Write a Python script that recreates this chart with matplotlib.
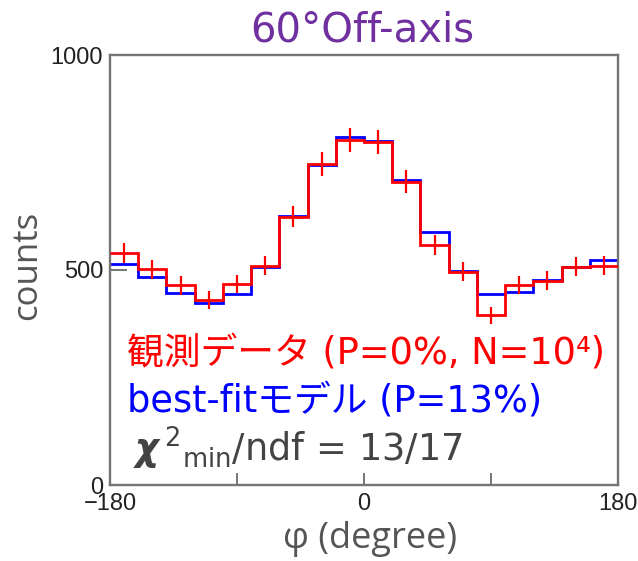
import numpy as np
import matplotlib
matplotlib.use("Agg")
import matplotlib.pyplot as plt

# ---- data ----
phi_edges = [-180, -160, -140, -120, -100, -80, -60, -40, -20, 0,
             20, 40, 60, 80, 100, 120, 140, 160, 180]
observed = [539, 502, 464, 430, 467, 510, 624, 746, 802, 797,
            705, 558, 496, 395, 465, 475, 508, 510]
model = [514, 483, 446, 424, 444, 508, 626, 744, 809, 801,
         709, 589, 498, 444, 450, 477, 508, 523]
x_tick_pos = [-180, -90, 0, 90, 180]
x_tick_lab = ['\u2212180', '', '0', '', '180']
y_tick_pos = [0, 500, 1000]
y_tick_lab = ['0', '500', '1000']

title = '60\u00b0Off-axis'
label_obs = '観測データ (P=0%, N=10\u2074)'
label_fit = 'best-fitモデル (P=13%)'
label_chi = r'$\chi^{\,2}{}_{\mathrm{min}}$/ndf = 13/17'
xlabel = '\u03c6 (degree)'
ylabel = 'counts'

plt.rcParams['mathtext.fontset'] = 'custom'
plt.rcParams['mathtext.rm'] = 'DejaVu Sans'
plt.rcParams['mathtext.it'] = 'DejaVu Sans:italic:bold'
plt.rcParams['mathtext.bf'] = 'DejaVu Sans:bold'

W, H = 638, 561
fig = plt.figure(figsize=(W / 100, H / 100), dpi=100)
L, R, T, B = 110, 618, 55, 485
ax = fig.add_axes([L / W, 1 - B / H, (R - L) / W, (B - T) / H])

edges = np.array(phi_edges, dtype=float)
obs = np.array(observed, dtype=float)
mod = np.array(model, dtype=float)
centers = 0.5 * (edges[:-1] + edges[1:])

ax.stairs(mod, edges, color='#0000ff', lw=2.0, baseline=None, zorder=2)
ax.stairs(obs, edges, color='#ff0000', lw=2.0, baseline=None, zorder=3)
ax.errorbar(centers, obs, yerr=np.sqrt(obs), fmt='none', ecolor='#ff0000',
            elinewidth=1.6, capsize=0, zorder=4)

ax.set_xlim(-180, 180)
ax.set_ylim(0, 1000)

frame_col = '#747474'
for s in ax.spines.values():
    s.set_color(frame_col)
    s.set_linewidth(1.7)

ax.set_xticks(x_tick_pos)
ax.set_xticklabels(x_tick_lab, fontfamily='Liberation Sans', fontsize=17, color='#222222')
ax.set_yticks(y_tick_pos)
ax.set_yticklabels(y_tick_lab, fontfamily='Liberation Sans', fontsize=17, color='#222222')
ax.tick_params(axis='x', direction='in', length=9, width=1.4, color=frame_col, pad=6)
ax.tick_params(axis='y', direction='in', length=12, width=1.4, color=frame_col, pad=5)

# texts
fam_jp = ['DejaVu Sans', 'Noto Sans CJK JP']
fig.text(362 / W, 1 - 42 / H, title, ha='center', va='baseline',
         fontsize=29, color='#7030a0', family=fam_jp)
fig.text(127 / W, 1 - 363 / H, label_obs, ha='left', va='baseline',
         fontsize=26.5, color='#ff0000', family=fam_jp)
fig.text(127 / W, 1 - 412 / H, label_fit, ha='left', va='baseline',
         fontsize=26.5, color='#0000ff', family=fam_jp)
fig.text(133 / W, 1 - 462 / H, label_chi, ha='left', va='baseline',
         fontsize=26.5, color='#444444', family='DejaVu Sans')

fig.text(370 / W, 1 - 548 / H, xlabel, ha='center', va='baseline',
         fontsize=26, color='#555555', family=['Open Sans', 'DejaVu Sans'])
fig.text(27 / W, 1 - 265 / H, ylabel, ha='center', va='center', rotation=90,
         fontsize=25, color='#555555', family='Open Sans')

fig.savefig('out.png', dpi=100, facecolor='white')
